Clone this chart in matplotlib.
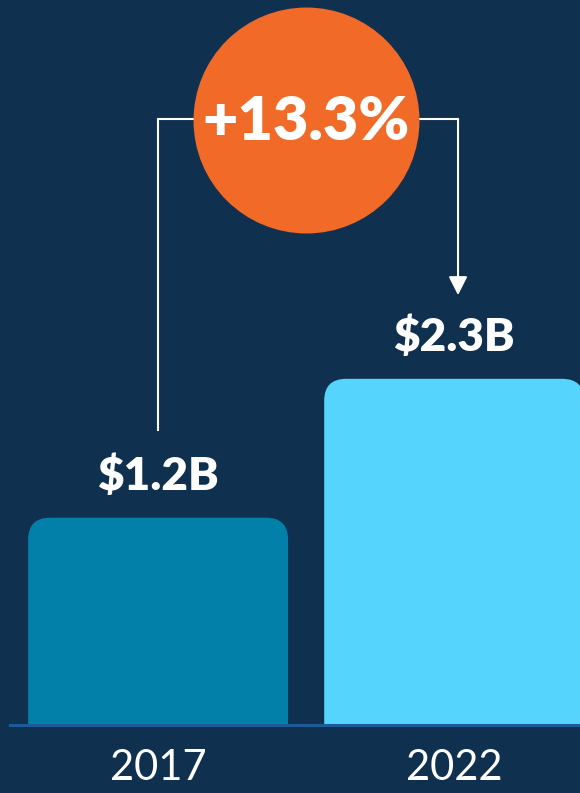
import numpy as np
import matplotlib.pyplot as plt
from matplotlib.patches import FancyBboxPatch

# данные
years = ['2017', '2022']
values = [1.2, 2.3]
value_labels = ['$1.2B', '$2.3B']
growth_label = '+13.3%'

# цвета
bg = '#10304f'
bar_colors = ['#0280aa', '#55d4fe']
orange = '#f26a27'
base_color = '#1e5a98'

floor = -0.45           # низ столбцов (ось обрезана)
bar_w = 0.878

fig = plt.figure(figsize=(5.8, 7.93), dpi=100)
fig.patch.set_facecolor(bg)
ax = fig.add_axes([0, 0, 1, 1])
ax.set_facecolor(bg)
ax.set_xlim(-0.534, 1.425)
ax.set_ylim(-0.98, 5.30)
ax.axis('off')

x = np.arange(len(years))

# столбцы со скруглёнными верхними углами
for xi, v, c in zip(x, values, bar_colors):
  p = FancyBboxPatch((xi - bar_w / 2, floor - 0.3), bar_w, v - floor + 0.3,
                     boxstyle='round,pad=0,rounding_size=0.074',
                     mutation_aspect=296 / 126.3,
                     fc=c, ec='none', zorder=2)
  ax.add_patch(p)
# закрываем низ, чтобы нижние углы были прямыми
ax.axhspan(-0.98, floor, color=bg, zorder=3, lw=0)
ax.axhline(floor + 0.012, xmin=10 / 580, xmax=1, color=base_color, lw=2.2, zorder=4)

# подписи значений
for xi, v, lab in zip(x, values, value_labels):
  ax.text(xi, v + 0.22, lab, ha='center', va='baseline', color='white',
          fontsize=33, fontweight='heavy', family='Lato', zorder=5)

# годы
for xi, yr in zip(x, years):
  ax.text(xi, floor - 0.43, yr, ha='center', va='baseline', color='white',
          fontsize=30, fontweight='normal', family='Lato', zorder=5)

# скобка со стрелкой
top_y = 4.356
right_x = 1.013
ax.plot([x[0], x[0], right_x], [values[0] + 0.694, top_y, top_y],
        color='white', lw=1.5, solid_joinstyle='miter', zorder=5)
ax.annotate('', xy=(right_x, values[1] + 0.663), xytext=(right_x, top_y),
            arrowprops=dict(arrowstyle='-|>,head_length=0.75,head_width=0.38',
                            mutation_scale=15, color='white', lw=1.5,
                            shrinkA=0, shrinkB=0),
            zorder=5)

# оранжевый круг
ax.scatter([0.5], [4.348], s=162.7 ** 2, color=orange, lw=0, zorder=6)
ax.text(0.5, 4.19, growth_label, ha='center', va='baseline', color='white',
        fontsize=44, fontweight='heavy', family='Lato', zorder=7)

fig.savefig('out.png', dpi=100, facecolor=bg)
